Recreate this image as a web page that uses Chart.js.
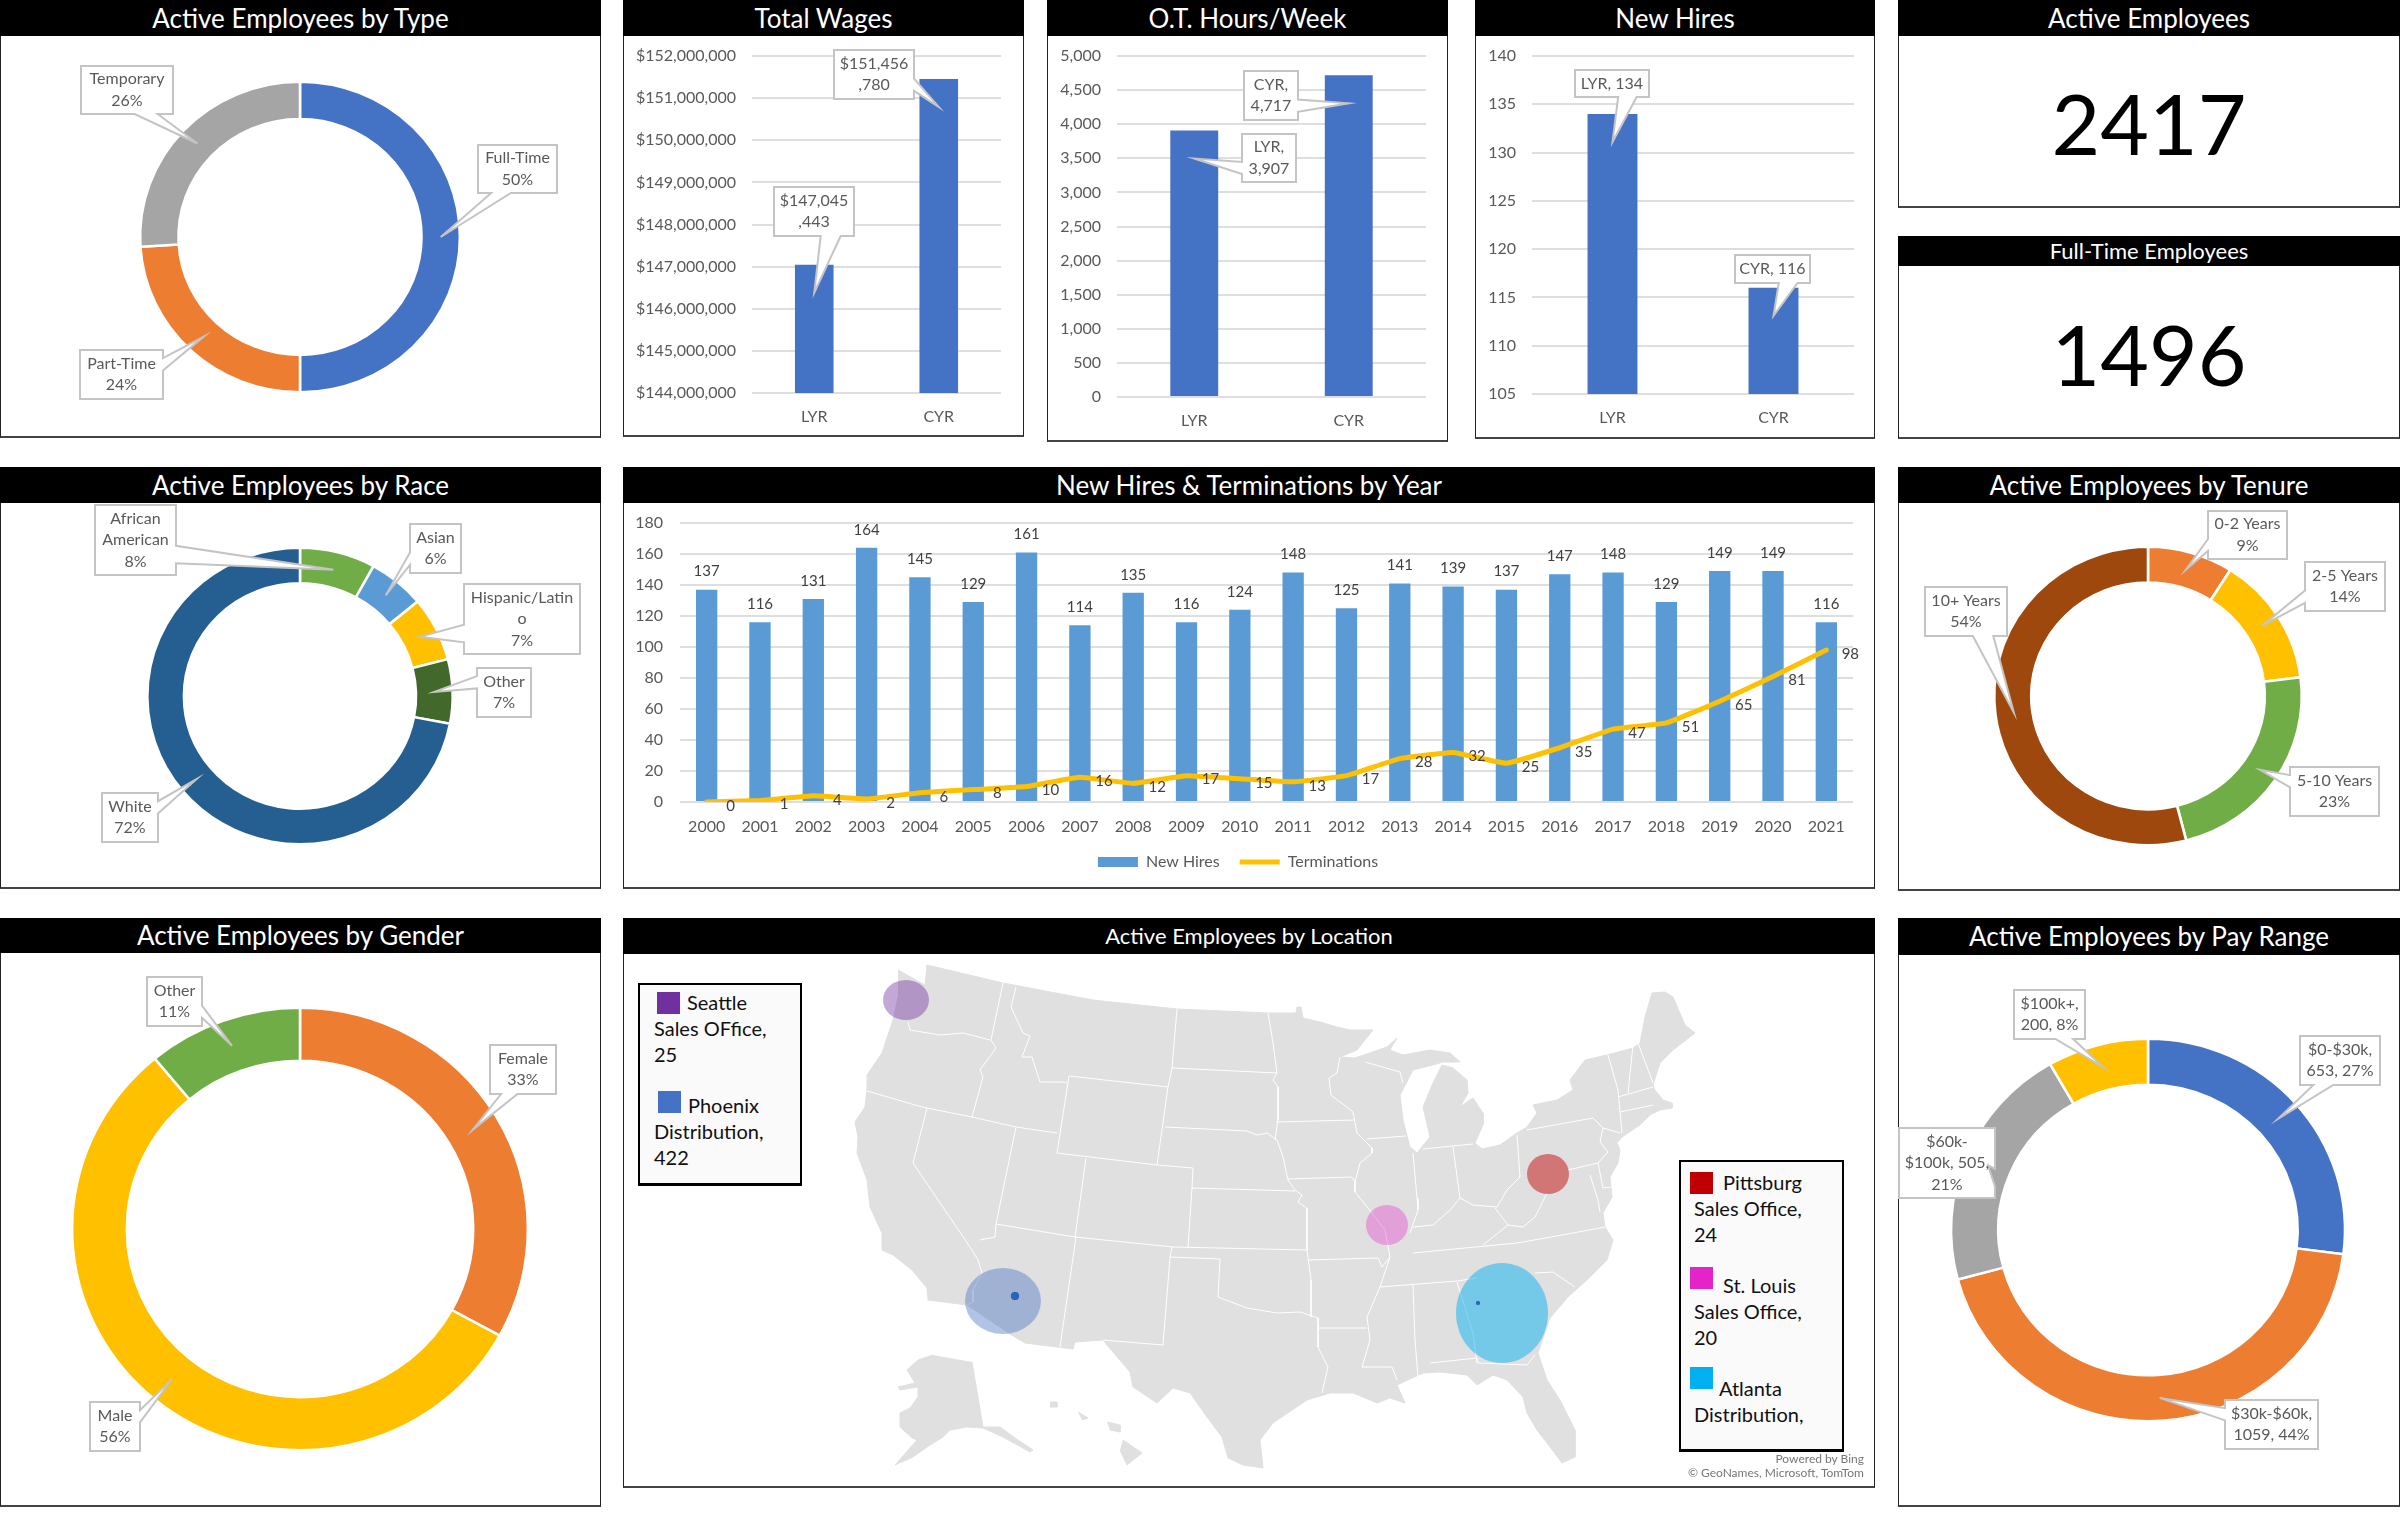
<!DOCTYPE html>
<html>
<head>
<meta charset="utf-8">
<title>HR Dashboard</title>
<script src="https://cdn.jsdelivr.net/npm/chart.js@4"></script>
<style>
  html, body { margin: 0; background: #fff; }
  body { width: 2400px; height: 1521px; position: relative; overflow: hidden; font-family: Lato, sans-serif; }
  .frame { position: absolute; box-sizing: border-box; border: 1px solid #222; border-bottom: 2px solid #444; background: #fff; }
  .bar { position: absolute; background: #000; color: #fff; text-align: center; }
  canvas { position: absolute; }
  .big { position: absolute; color: #000; text-align: center; font-size: 84px; transform: translateY(-50%); }
  .keybox { position: absolute; box-sizing: border-box; border: 2px solid #000; border-bottom-width: 3px; background: #fafafa; overflow: hidden; }
  .swatch { position: absolute; }
  .keytext { position: absolute; color: #111; font-size: 20px; line-height: 26px; transform: translateY(-50%); white-space: nowrap; }
  .credit { position: absolute; color: #777; font-size: 12px; text-align: right; transform: translateY(-50%); white-space: nowrap; }
</style>
</head>
<body>
<script>
// Dashboard values
const typeLabels = ["Full-Time", "Part-Time", "Temporary"];
const typeShares = [50, 24, 26];
const raceLabels = [["African", "American"], ["Asian"], ["Hispanic/Latin", "o"], ["Other"], ["White"]];
const raceShares = [8, 6, 7, 7, 72];
const tenureLabels = ["0-2 Years", "2-5 Years", "5-10 Years", "10+ Years"];
const tenureShares = [9, 14, 23, 54];
const genderLabels = ["Female", "Male", "Other"];
const genderShares = [33, 56, 11];
const payLabels = ["$0-$30k", "$30k-$60k", "$60k-$100k", "$100k+"];
const payCounts = [653, 1059, 505, 200];
const payShares = [27, 44, 21, 8];

const periods = ["LYR", "CYR"];
const totalWages = [147045443, 151456780];
const overtimeHours = [3907, 4717];
const newHiresTotal = [134, 116];

const years = ["2000", "2001", "2002", "2003", "2004", "2005", "2006", "2007", "2008", "2009", "2010",
  "2011", "2012", "2013", "2014", "2015", "2016", "2017", "2018", "2019", "2020", "2021"];
const newHires = [137, 116, 131, 164, 145, 129, 161, 114, 135, 116, 124, 148, 125, 141, 139, 137, 147, 148, 129, 149, 149, 116];
const terminations = [0, 1, 4, 2, 6, 8, 10, 16, 12, 17, 15, 13, 17, 28, 32, 25, 35, 47, 51, 65, 81, 98];

const activeEmployees = 2417;
const fullTimeEmployees = 1496;

// Office bubbles on the map, in map units
const officeNames = ["Seattle", "Phoenix", "Pittsburg", "St. Louis", "Atlanta"];
const officeKinds = ["Sales OFfice,", "Distribution,", "Sales Office,", "Sales Office,", "Distribution,"];
const officeHeads = [25, 422, 24, 20, null];
const officeX = [906, 1003, 1548, 1387, 1502];
const officeY = [1000, 1301, 1174, 1225, 1313];
const officeFill = ["rgba(112,48,160,0.42)", "rgba(68,114,196,0.42)", "rgba(192,0,0,0.48)", "rgba(228,32,200,0.33)", "rgba(0,176,240,0.48)"];
const officeKey = ["#7030a0", "#4472c4", "#c00000", "#e424c8", "#00b0f0"];
const siteX = [1015, 1478];
const siteY = [1296, 1303];

// Map geometry, traced in map units
const lower48 = [[898,970],[925,985],[927,965],[1003,983],[1093,1000],[1177,1009],[1268,1013],[1296,1013],[1297,1007],[1301,1007],[1303,1018],[1320,1022],[1337,1027],[1350,1030],[1373,1030],[1357,1050],[1340,1057],[1355,1058],[1387,1047],[1397,1038],[1390,1050],[1403,1055],[1430,1050],[1450,1053],[1460,1062],[1443,1062],[1433,1065],[1413,1070],[1400,1095],[1403,1120],[1410,1147],[1417,1153],[1430,1137],[1423,1107],[1433,1083],[1442,1065],[1453,1068],[1467,1080],[1468,1093],[1460,1107],[1473,1098],[1483,1113],[1483,1125],[1475,1143],[1482,1149],[1500,1145],[1517,1133],[1527,1127],[1537,1113],[1533,1105],[1557,1100],[1573,1090],[1570,1080],[1585,1060],[1607,1055],[1633,1048],[1640,1043],[1645,1017],[1652,993],[1665,992],[1673,997],[1685,1025],[1695,1033],[1673,1050],[1660,1063],[1653,1085],[1655,1090],[1663,1100],[1672,1103],[1672,1108],[1660,1110],[1650,1115],[1640,1125],[1622,1137],[1617,1143],[1620,1150],[1618,1163],[1610,1177],[1612,1197],[1603,1213],[1605,1227],[1613,1240],[1607,1260],[1587,1280],[1568,1297],[1550,1318],[1538,1353],[1547,1380],[1560,1400],[1575,1430],[1575,1457],[1562,1463],[1547,1443],[1537,1430],[1527,1413],[1523,1397],[1507,1380],[1493,1375],[1477,1385],[1467,1375],[1440,1372],[1423,1373],[1397,1385],[1405,1403],[1390,1398],[1377,1403],[1353,1393],[1330,1393],[1307,1400],[1273,1423],[1260,1440],[1263,1468],[1243,1465],[1228,1458],[1222,1437],[1207,1417],[1190,1393],[1173,1388],[1157,1403],[1133,1387],[1130,1372],[1107,1345],[1103,1340],[1075,1342],[1073,1349],[1025,1343],[1010,1334],[967,1305],[928,1300],[927,1288],[912,1270],[893,1255],[882,1250],[882,1233],[870,1207],[867,1180],[857,1153],[858,1137],[855,1122],[865,1107],[867,1090],[867,1075],[882,1053],[893,1020],[898,997]];
const alaska = [[972,1362],[983,1427],[1000,1427],[1018,1440],[1033,1450],[1030,1452],[1003,1437],[983,1428],[967,1427],[950,1430],[943,1437],[927,1447],[913,1457],[895,1465],[917,1440],[912,1438],[900,1427],[900,1413],[910,1408],[918,1397],[918,1387],[900,1390],[898,1387],[915,1383],[907,1370],[918,1360],[933,1355]];
const hawaiiIslands = [
  [[1123,1440],[1142,1453],[1127,1465],[1120,1450]],
  [[1107,1422],[1120,1425],[1120,1432],[1110,1430]],
  [[1078,1412],[1088,1418],[1082,1420]],
  [[1050,1402],[1057,1402],[1057,1407],[1050,1407]],
];
const stateBorders = [
  [[908,1022],[910,1030],[940,1035],[963,1033],[990,1040]],
  [[1003,983],[991,1040],[996,1048],[980,1070],[983,1077],[972,1117]],
  [[1016,987],[1011,1007],[1023,1033],[1030,1036],[1022,1057],[1032,1057],[1040,1082],[1062,1082],[1067,1083]],
  [[867,1091],[922,1107],[972,1117],[1016,1127],[1057,1133]],
  [[1069,1076],[1168,1087],[1157,1165],[1057,1153],[1069,1076]],
  [[1177,1009],[1172,1068],[1168,1087]],
  [[1172,1068],[1277,1073]],
  [[1268,1013],[1273,1043],[1277,1073],[1273,1080],[1278,1087],[1278,1120],[1275,1140]],
  [[1165,1127],[1247,1131],[1257,1135],[1267,1133],[1277,1140],[1283,1157],[1288,1180],[1295,1190],[1302,1195],[1298,1202],[1307,1208],[1307,1250]],
  [[1157,1165],[1193,1168],[1192,1188],[1295,1191]],
  [[1086,1158],[1075,1237]],
  [[1192,1188],[1188,1247]],
  [[1016,1127],[996,1224],[995,1237],[980,1240]],
  [[927,1108],[913,1163],[972,1250],[978,1260],[982,1273],[973,1290],[973,1302],[967,1305]],
  [[996,1224],[1075,1237],[1173,1247],[1307,1250]],
  [[1076,1237],[1060,1347]],
  [[1172,1247],[1170,1257],[1163,1345],[1103,1340]],
  [[1170,1257],[1220,1259],[1218,1297],[1247,1308],[1277,1313],[1300,1312],[1318,1318]],
  [[1307,1250],[1311,1280],[1311,1317]],
  [[1318,1318],[1318,1347],[1328,1367],[1322,1393]],
  [[1318,1328],[1367,1328]],
  [[1308,1260],[1378,1258],[1382,1267],[1390,1257],[1380,1287],[1367,1317],[1370,1340],[1362,1367],[1392,1367],[1397,1380]],
  [[1413,1285],[1415,1340],[1418,1377]],
  [[1380,1287],[1457,1281],[1477,1278]],
  [[1535,1273],[1553,1272],[1575,1287]],
  [[1413,1253],[1517,1243],[1568,1234],[1605,1227]],
  [[1457,1282],[1473,1333],[1477,1363]],
  [[1430,1363],[1477,1358],[1478,1363],[1527,1365],[1535,1355]],
  [[1288,1179],[1352,1177],[1355,1182]],
  [[1276,1122],[1355,1120]],
  [[1340,1057],[1337,1073],[1329,1078],[1331,1095],[1353,1112],[1357,1133],[1372,1148],[1372,1153],[1360,1163],[1355,1182],[1355,1192],[1368,1208],[1385,1230],[1390,1257]],
  [[1367,1139],[1406,1136]],
  [[1365,1062],[1400,1072],[1403,1083]],
  [[1413,1153],[1417,1198],[1418,1210],[1410,1233]],
  [[1453,1147],[1460,1198]],
  [[1423,1149],[1473,1144]],
  [[1413,1227],[1433,1225],[1450,1210],[1460,1198],[1473,1205],[1497,1207],[1507,1190],[1520,1177]],
  [[1517,1135],[1520,1177]],
  [[1495,1208],[1508,1225],[1483,1245]],
  [[1508,1225],[1523,1227],[1535,1217],[1547,1193]],
  [[1527,1130],[1593,1118],[1603,1128]],
  [[1568,1170],[1598,1163]],
  [[1603,1128],[1600,1142],[1608,1152],[1598,1163]],
  [[1603,1128],[1620,1133]],
  [[1608,1055],[1618,1090],[1622,1133]],
  [[1633,1045],[1628,1093]],
  [[1638,1043],[1653,1083]],
  [[1618,1097],[1653,1087]],
  [[1620,1112],[1653,1105]],
  [[1598,1163],[1603,1188],[1612,1187]],
  [[1590,1175],[1598,1200],[1600,1212]],
];

Chart.defaults.font.family = "Lato, sans-serif";
Chart.defaults.font.size = 16;
Chart.defaults.color = "#595959";
Chart.defaults.animation = false;
Chart.defaults.events = [];
Chart.defaults.plugins.legend.display = false;
Chart.defaults.plugins.tooltip.enabled = false;

const BLUE = "#4472c4";
const ORANGE = "#ed7d31";
const GREY = "#a5a5a5";
const GOLD = "#ffc000";
const GREEN = "#70ad47";
const GRID = "#dedede";
const DONUT_STRETCH = 1.03;

function addDiv(className, left, top, width, height) {
  const div = document.createElement("div");
  div.className = className;
  div.style.left = left + "px";
  div.style.top = top + "px";
  if (width != null) div.style.width = width + "px";
  if (height != null) div.style.height = height + "px";
  document.body.appendChild(div);
  return div;
}

// white frame with a black title strip, plus a canvas over the area below the strip
function addPanel(title, x, y, w, h, stripH, titleSize) {
  addDiv("frame", x, y, w, h);
  const strip = addDiv("bar", x, y, w, stripH);
  strip.textContent = title;
  strip.style.fontSize = titleSize + "px";
  strip.style.lineHeight = stripH + "px";
  const canvas = document.createElement("canvas");
  canvas.width = w;
  canvas.height = h - stripH;
  canvas.style.left = x + "px";
  canvas.style.top = y + stripH + "px";
  document.body.appendChild(canvas);
  return { canvas, x, y: y + stripH, w, h: h - stripH };
}

function traceCallout(ctx, x, y, w, h, tip) {
  const dx = tip.x - (x + w / 2);
  const dy = tip.y - (y + h / 2);
  const overTall = Math.abs(dy) - Math.abs(dx * h / w);
  const ax = dx > 0 ? 7 / 12 : 2 / 12;
  const bx = dx > 0 ? 10 / 12 : 5 / 12;
  const ay = dy > 0 ? 7 / 12 : 2 / 12;
  const by = dy > 0 ? 10 / 12 : 5 / 12;
  ctx.beginPath();
  ctx.moveTo(x, y);
  if (overTall > 0 && dy < 0) {
    ctx.lineTo(x + w * ax, y);
    ctx.lineTo(tip.x, tip.y);
    ctx.lineTo(x + w * bx, y);
  }
  ctx.lineTo(x + w, y);
  if (overTall <= 0 && dx > 0) {
    ctx.lineTo(x + w, y + h * ay);
    ctx.lineTo(tip.x, tip.y);
    ctx.lineTo(x + w, y + h * by);
  }
  ctx.lineTo(x + w, y + h);
  if (overTall > 0 && dy > 0) {
    ctx.lineTo(x + w * bx, y + h);
    ctx.lineTo(tip.x, tip.y);
    ctx.lineTo(x + w * ax, y + h);
  }
  ctx.lineTo(x, y + h);
  if (overTall <= 0 && dx < 0) {
    ctx.lineTo(x, y + h * by);
    ctx.lineTo(tip.x, tip.y);
    ctx.lineTo(x, y + h * ay);
  }
  ctx.closePath();
}

// speech-bubble labels; each wedge points at its own arc or bar
function calloutPlugin(panel, boxes, textLines, tipOf) {
  return {
    id: "callouts",
    afterDatasetsDraw(chart) {
      const ctx = chart.ctx;
      const marks = chart.getDatasetMeta(0).data;
      boxes.forEach((box, i) => {
        const tip = tipOf(marks[i]);
        const x = box[0] - panel.x;
        const y = box[1] - panel.y;
        const w = box[2];
        const h = box[3];
        ctx.save();
        traceCallout(ctx, x, y, w, h, tip);
        ctx.fillStyle = "#fff";
        ctx.strokeStyle = "#c4c4c4";
        ctx.lineWidth = 2;
        ctx.fill();
        ctx.stroke();
        ctx.fillStyle = "#595959";
        ctx.font = "16px Lato";
        ctx.textAlign = "center";
        ctx.textBaseline = "middle";
        const lines = textLines[i];
        lines.forEach((line, n) => {
          ctx.fillText(line, x + w / 2, y + h / 2 + (n - (lines.length - 1) / 2) * 21.5);
        });
        ctx.restore();
      });
    },
  };
}

// the rings are slightly wider than tall
function widenPlugin(cx) {
  return {
    id: "widen",
    beforeDatasetsDraw(chart) {
      chart.ctx.save();
      chart.ctx.translate(cx, 0);
      chart.ctx.scale(DONUT_STRETCH, 1);
      chart.ctx.translate(-cx, 0);
    },
    afterDatasetsDraw(chart) {
      chart.ctx.restore();
    },
  };
}

function drawDonut(panel, cx, cy, radius, values, colors, boxes, textLines) {
  const localX = cx - panel.x;
  const outer = radius + 2.5;
  new Chart(panel.canvas, {
    type: "doughnut",
    data: {
      datasets: [{ data: values, backgroundColor: colors, borderColor: "#fff", borderWidth: 2.5, clip: false }],
    },
    options: {
      responsive: false,
      cutout: "76%",
      layout: {
        padding: {
          left: localX - outer,
          right: panel.x + panel.w - cx - outer,
          top: cy - outer - panel.y,
          bottom: panel.y + panel.h - cy - outer,
        },
      },
    },
    plugins: [
      widenPlugin(localX),
      calloutPlugin(panel, boxes, textLines, (arc) => {
        const mid = arc.getCenterPoint();
        return { x: localX + (mid.x - localX) * DONUT_STRETCH, y: mid.y };
      }),
    ],
  });
}

function drawColumns(panel, plot, values, yMin, yMax, yStep, tickFormat, boxes, textLines) {
  new Chart(panel.canvas, {
    type: "bar",
    data: {
      labels: periods,
      datasets: [{ data: values, backgroundColor: BLUE, barPercentage: 0.31, categoryPercentage: 1 }],
    },
    options: {
      responsive: false,
      layout: { padding: { top: plot.top - panel.y, right: panel.x + panel.w - plot.right, left: 0, bottom: 0 } },
      scales: {
        x: {
          grid: { display: false, drawTicks: false },
          border: { display: false },
          ticks: { padding: 14 },
          afterFit(scale) { scale.height = panel.y + panel.h - plot.bottom; },
        },
        y: {
          min: yMin,
          max: yMax,
          grid: { color: GRID, lineWidth: 2, tickColor: "transparent", tickLength: 16 },
          border: { display: false },
          ticks: { stepSize: yStep, padding: 0, callback: tickFormat },
          afterFit(scale) { scale.width = plot.left - panel.x; },
        },
      },
    },
    plugins: [calloutPlugin(panel, boxes, textLines, (bar) => ({ x: bar.x, y: bar.y + 28 }))],
  });
}

// elliptical office marker used as a point style
function officeMarker(color, rx, ry) {
  const marker = document.createElement("canvas");
  marker.width = rx * 2;
  marker.height = ry * 2;
  const ctx = marker.getContext("2d");
  ctx.fillStyle = color;
  ctx.beginPath();
  ctx.ellipse(rx, ry, rx, ry, 0, 0, Math.PI * 2);
  ctx.fill();
  return marker;
}

const withCommas = (v) => v.toLocaleString("en-US");
const asShare = (v) => v + "%";

// Row 1
const typePanel = addPanel("Active Employees by Type", 0, 0, 601, 438, 36, 26);
drawDonut(typePanel, 300, 237, 154, typeShares, [BLUE, ORANGE, GREY],
  [[478, 145, 79, 48], [80, 350, 83, 49], [81, 66, 92, 48]],
  typeLabels.map((name, i) => [name, asShare(typeShares[i])]));

const wagesPanel = addPanel("Total Wages", 623, 0, 401, 437, 36, 26);
drawColumns(wagesPanel, { left: 752, right: 1001, top: 56, bottom: 393 }, totalWages,
  144000000, 152000000, 1000000, (v) => "$" + withCommas(v),
  [[774, 187, 80, 49], [834, 50, 80, 49]],
  totalWages.map((v) => ["$" + withCommas(v).slice(0, 7), withCommas(v).slice(7)]));

const overtimePanel = addPanel("O.T. Hours/Week", 1047, 0, 401, 442, 36, 26);
drawColumns(overtimePanel, { left: 1117, right: 1426, top: 56, bottom: 397 }, overtimeHours,
  0, 5000, 500, withCommas,
  [[1242, 134, 54, 48], [1244, 71, 54, 49]],
  overtimeHours.map((v, i) => [periods[i] + ",", withCommas(v)]));

const hiresPanel = addPanel("New Hires", 1475, 0, 400, 439, 36, 26);
drawColumns(hiresPanel, { left: 1532, right: 1854, top: 56, bottom: 394 }, newHiresTotal,
  105, 140, 5, withCommas,
  [[1575, 70, 74, 27], [1735, 255, 75, 28]],
  newHiresTotal.map((v, i) => [periods[i] + ", " + v]));

addPanel("Active Employees", 1898, 0, 502, 208, 36, 26);
addDiv("big", 1898, 122, 502).textContent = activeEmployees;
addPanel("Full-Time Employees", 1898, 236, 502, 203, 30, 22);
addDiv("big", 1898, 353, 502).textContent = fullTimeEmployees;

// Row 2
const racePanel = addPanel("Active Employees by Race", 0, 467, 601, 422, 36, 26);
drawDonut(racePanel, 300, 696, 147, raceShares, [GREEN, "#5b9bd5", GOLD, "#43682b", "#255e91"],
  [[95, 505, 81, 70], [410, 524, 51, 49], [464, 584, 116, 70], [477, 668, 54, 49], [102, 793, 56, 49]],
  raceLabels.map((name, i) => [...name, asShare(raceShares[i])]));

const yearsPanel = addPanel("New Hires & Terminations by Year", 623, 467, 1252, 422, 36, 26);
const yearLabelsPlugin = {
  id: "yearLabels",
  afterDatasetsDraw(chart) {
    const ctx = chart.ctx;
    ctx.save();
    ctx.fillStyle = "#404040";
    ctx.font = "15px Lato";
    ctx.textAlign = "center";
    ctx.textBaseline = "middle";
    chart.getDatasetMeta(0).data.forEach((el, i) => ctx.fillText(newHires[i], el.x, el.y - 18));
    chart.getDatasetMeta(1).data.forEach((el, i) => ctx.fillText(terminations[i], el.x + 24, el.y + 4));
    ctx.restore();
  },
};
new Chart(yearsPanel.canvas, {
  data: {
    labels: years,
    datasets: [
      {
        type: "bar",
        label: "New Hires",
        data: newHires,
        backgroundColor: "#5b9bd5",
        barPercentage: 0.4,
        categoryPercentage: 1,
        pointStyle: "rect",
        order: 2,
      },
      {
        type: "line",
        label: "Terminations",
        data: terminations,
        borderColor: GOLD,
        backgroundColor: GOLD,
        borderWidth: 5,
        borderCapStyle: "round",
        pointRadius: 0,
        tension: 0.1,
        pointStyle: "line",
        order: 1,
      },
    ],
  },
  options: {
    responsive: false,
    layout: { autoPadding: false, padding: { top: 523 - yearsPanel.y, right: 1875 - 1853, left: 0, bottom: 9 } },
    plugins: {
      legend: {
        display: true,
        position: "bottom",
        labels: {
          usePointStyle: true,
          pointStyleWidth: 40,
          boxHeight: 10,
          padding: 20,
          sort: (a, b) => a.datasetIndex - b.datasetIndex,
        },
      },
    },
    scales: {
      x: {
        grid: { display: false, drawTicks: false },
        border: { display: false },
        ticks: { padding: 15, autoSkip: false, maxRotation: 0 },
        afterFit(scale) { scale.height = 32; },
      },
      y: {
        min: 0,
        max: 180,
        grid: { color: GRID, lineWidth: 2, tickColor: "transparent", tickLength: 17 },
        border: { display: false },
        ticks: { stepSize: 20, padding: 0 },
        afterFit(scale) { scale.width = 680 - yearsPanel.x; },
      },
    },
  },
  plugins: [yearLabelsPlugin],
});

const tenurePanel = addPanel("Active Employees by Tenure", 1898, 467, 502, 424, 36, 26);
drawDonut(tenurePanel, 2148, 696, 148, tenureShares, [ORANGE, GOLD, GREEN, "#9e480e"],
  [[2208, 511, 79, 48], [2305, 562, 80, 49], [2290, 767, 89, 49], [1925, 587, 82, 49]],
  tenureLabels.map((name, i) => [name, asShare(tenureShares[i])]));

// Row 3
const genderPanel = addPanel("Active Employees by Gender", 0, 918, 601, 589, 35, 26);
drawDonut(genderPanel, 300, 1229, 220, genderShares, [ORANGE, GOLD, GREEN],
  [[490, 1045, 66, 49], [90, 1402, 50, 49], [147, 977, 55, 49]],
  genderLabels.map((name, i) => [name, asShare(genderShares[i])]));

const mapPanel = addPanel("Active Employees by Location", 623, 918, 1252, 570, 36, 22);
const toPoints = (line) => line.map(([x, y]) => ({ x, y }));
const landDataset = (shape) => ({
  data: toPoints(shape),
  showLine: true,
  fill: "shape",
  backgroundColor: "#e0e0e0",
  borderColor: "#e0e0e0",
  borderWidth: 1,
  pointRadius: 0,
  order: 3,
});
new Chart(mapPanel.canvas, {
  type: "scatter",
  data: {
    datasets: [
      {
        data: siteX.map((x, i) => ({ x, y: siteY[i] })),
        backgroundColor: "#2a62c0",
        pointRadius: [4, 2],
        order: 0,
      },
      {
        type: "bubble",
        data: officeX.map((x, i) => ({ x, y: officeY[i], r: 1 })),
        pointStyle: [
          officeMarker(officeFill[0], 23, 20),
          officeMarker(officeFill[1], 38, 33),
          officeMarker(officeFill[2], 21, 20),
          officeMarker(officeFill[3], 21, 20),
          officeMarker(officeFill[4], 46, 50),
        ],
        order: 1,
      },
      ...stateBorders.map((line) => ({
        data: toPoints(line),
        showLine: true,
        borderColor: "#fff",
        borderWidth: 1,
        pointRadius: 0,
        order: 2,
      })),
      landDataset(lower48),
      landDataset(alaska),
      ...hawaiiIslands.map(landDataset),
    ],
  },
  options: {
    responsive: false,
    layout: { autoPadding: false },
    scales: {
      x: { display: false, min: mapPanel.x, max: mapPanel.x + mapPanel.w },
      y: { display: false, reverse: true, min: mapPanel.y, max: mapPanel.y + mapPanel.h },
    },
  },
});

addDiv("keybox", 638, 983, 164, 203);
addDiv("keybox", 1679, 1160, 165, 292);
const keySwatches = [[657, 992], [658, 1091], [1690, 1172], [1690, 1267], [1690, 1367]];
const keyRows = [1002, 1105, 1182, 1285, 1388];
const keyNameX = [687, 688, 1723, 1723, 1719];
const keyTextX = [654, 654, 1694, 1694, 1694];
officeNames.forEach((name, i) => {
  const swatch = addDiv("swatch", keySwatches[i][0], keySwatches[i][1], 23, 22);
  swatch.style.background = officeKey[i];
  addDiv("keytext", keyNameX[i], keyRows[i]).textContent = name;
  addDiv("keytext", keyTextX[i], keyRows[i] + 26).textContent = officeKinds[i];
  if (officeHeads[i] != null) addDiv("keytext", keyTextX[i], keyRows[i] + 52).textContent = officeHeads[i];
});
const credit1 = addDiv("credit", 1664, 1458, 200);
credit1.textContent = "Powered by Bing";
const credit2 = addDiv("credit", 1564, 1472, 300);
credit2.textContent = "\u00a9 GeoNames, Microsoft, TomTom";

const payPanel = addPanel("Active Employees by Pay Range", 1898, 918, 502, 589, 37, 26);
drawDonut(payPanel, 2148, 1230, 190, payCounts, [BLUE, ORANGE, GREY, GOLD],
  [[2300, 1036, 80, 49], [2225, 1400, 93, 49], [1899, 1128, 96, 70], [2014, 990, 71, 49]],
  [
    [payLabels[0] + ",", payCounts[0] + ", " + asShare(payShares[0])],
    [payLabels[1] + ",", payCounts[1] + ", " + asShare(payShares[1])],
    ["$60k-", "$100k, " + payCounts[2] + ",", asShare(payShares[2])],
    [payLabels[3] + ",", payCounts[3] + ", " + asShare(payShares[3])],
  ]);
</script>
</body>
</html>
